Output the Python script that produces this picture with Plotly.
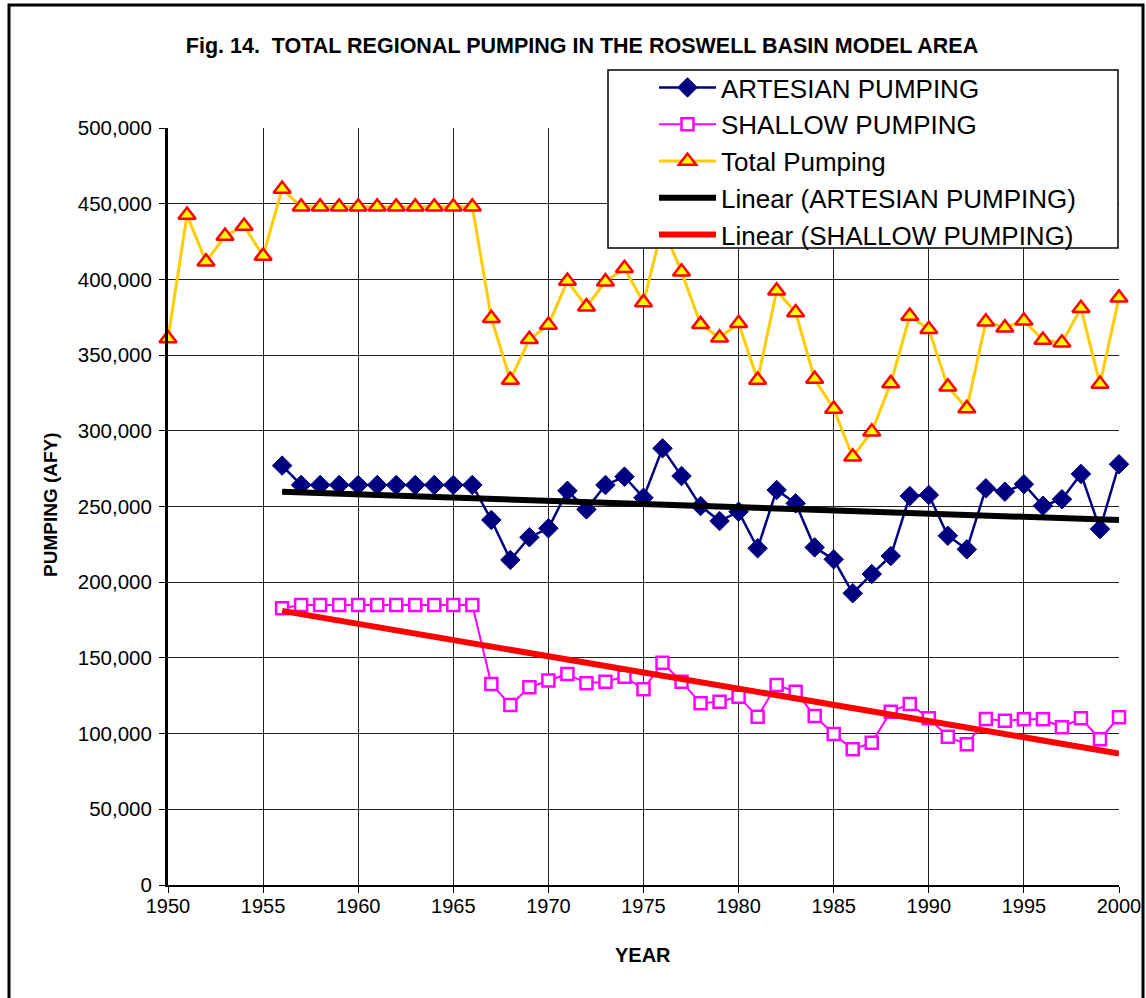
import numpy as np
import plotly.graph_objects as go

# ---- data ----
total_years = list(range(1950, 2001))
total_pumping = [361000, 442500, 411700, 428700, 435300, 415500, 459700,
                 448000, 448000, 448000, 448000, 448000, 448000, 448000, 448000, 448000, 448000,
                 374300, 333600, 360400, 369900, 398900, 382000, 398500, 407300, 384800,
                 435000, 405000, 370300, 361500, 371000, 333600, 392500, 378100,
                 334200, 314400, 282900, 299400, 331300, 375800, 367000, 329100, 314800,
                 372000, 368100, 372700, 360000, 358200, 380900, 330900, 387900]

split_years = list(range(1956, 2001))
artesian = [277000,
            264200, 264200, 264200, 264200, 264200, 264200, 264200, 264200, 264200, 264200,
            241100, 214700, 229700, 235600, 260400, 248100, 264200, 269700, 255800,
            288400, 270100, 250300, 240400, 246600, 222400, 260900, 252100, 223000,
            215100, 192700, 205400, 217300, 256900, 257600, 230700, 221700, 262000,
            259800, 264700, 250500, 254800, 271500, 235100, 277900]
shallow = [182800,
           184900, 184900, 184900, 184900, 184900, 184900, 184900, 184900, 184900, 184900,
           132800, 118900, 130600, 135000, 139400, 133200, 134300, 137600, 129300,
           146800, 134300, 120000, 121100, 124400, 111200, 132100, 127700, 111600,
           99700, 89600, 94000, 114500, 119500, 110100, 98000, 92900, 109600,
           108500, 109400, 109400, 104200, 110100, 96300, 110800]

x_ticks = list(range(1950, 2001, 5))
y_ticks = list(range(0, 500001, 50000))

# linear trendlines (least squares fit of the series, as in the original)
a_fit = np.polyfit(split_years, artesian, 1)
s_fit = np.polyfit(split_years, shallow, 1)
trend_x = [split_years[0], split_years[-1]]
a_trend = list(np.polyval(a_fit, trend_x))
s_trend = list(np.polyval(s_fit, trend_x))

FONT = "Liberation Sans, Arial, sans-serif"

W, H = 1146, 998
L, R, T, B = 168, 27, 128, 113
PW, PH = W - L - R, H - T - B


def px(xp):
    return (xp - L) / PW


def py(yp):
    return (H - B - yp) / PH


fig = go.Figure()

fig.add_trace(go.Scatter(
    x=split_years, y=artesian, name="ARTESIAN PUMPING", mode="lines+markers",
    line=dict(color="#000080", width=2.5),
    marker=dict(symbol="diamond", size=15, color="#000080", line=dict(color="#000080", width=1)),
    cliponaxis=False))

fig.add_trace(go.Scatter(
    x=split_years, y=shallow, name="SHALLOW PUMPING", mode="lines+markers",
    line=dict(color="#FF00FF", width=2),
    marker=dict(symbol="square", size=12, color="white", line=dict(color="#FF00FF", width=2.5)),
    cliponaxis=False))

fig.add_trace(go.Scatter(
    x=total_years, y=total_pumping, name="Total Pumping", mode="lines+markers",
    line=dict(color="#FFCC00", width=3),
    marker=dict(symbol="triangle-up", size=15, color="#FFFF00", line=dict(color="#FF0000", width=2.5)),
    cliponaxis=False))

fig.add_trace(go.Scatter(
    x=trend_x, y=a_trend, name="Linear (ARTESIAN PUMPING)", mode="lines",
    line=dict(color="#000000", width=6)))

fig.add_trace(go.Scatter(
    x=trend_x, y=s_trend, name="Linear (SHALLOW PUMPING)", mode="lines",
    line=dict(color="#FF0000", width=6)))

fig.update_layout(
    width=W, height=H,
    margin=dict(l=L, r=R, t=T, b=B, autoexpand=False),
    paper_bgcolor="white", plot_bgcolor="white",
    font=dict(family=FONT, color="black", size=20),
    title=dict(text="<b>Fig. 14.  TOTAL REGIONAL PUMPING IN THE ROSWELL BASIN MODEL AREA</b>",
               x=582 / W, xanchor="center", xref="container",
               y=1 - 45 / H, yanchor="middle", yref="container",
               font=dict(family=FONT, size=21.5, color="black")),
    showlegend=True,
    legend=dict(x=px(654), y=py(64), xanchor="left", yanchor="top",
                bgcolor="rgba(0,0,0,0)", borderwidth=0,
                font=dict(family=FONT, size=26, color="black"),
                itemwidth=57, traceorder="normal", itemclick=False),
    xaxis=dict(range=[1950, 2000], tickvals=x_ticks, ticktext=[str(v) for v in x_ticks],
               showgrid=True, gridcolor="#222222", gridwidth=1,
               showline=True, linecolor="black", linewidth=2,
               ticks="outside", ticklen=6, tickcolor="black", tickwidth=1,
               ticklabelstandoff=-4,
               tickfont=dict(family=FONT, size=20, color="black"),
               zeroline=False, fixedrange=True),
    yaxis=dict(range=[0, 500000], tickvals=y_ticks, tickformat=",d",
               showgrid=True, gridcolor="#222222", gridwidth=1,
               showline=True, linecolor="black", linewidth=3,
               ticks="outside", ticklen=6, tickcolor="black", tickwidth=1,
               ticklabelstandoff=3,
               tickfont=dict(family=FONT, size=20.5, color="black"),
               zeroline=False, fixedrange=True),
    annotations=[
        dict(text="<b>PUMPING (AFY)</b>", textangle=-90, x=px(50), y=py(505),
             xref="paper", yref="paper", showarrow=False, xanchor="center", yanchor="middle",
             font=dict(family=FONT, size=19, color="black")),
        dict(text="<b>YEAR</b>", x=px(643), y=py(955), xref="paper", yref="paper",
             showarrow=False, xanchor="center", yanchor="middle",
             font=dict(family=FONT, size=20, color="black")),
    ],
    shapes=[
        # legend box
        dict(type="rect", xref="paper", yref="paper", x0=px(608), x1=px(1118), y0=py(248), y1=py(70),
             line=dict(color="black", width=1.5), fillcolor="white", layer="above"),
        # outer frame
        dict(type="rect", xref="paper", yref="paper", x0=px(9), x1=px(1143), y0=py(1010), y1=py(5),
             line=dict(color="black", width=3), fillcolor="rgba(0,0,0,0)", layer="above"),
    ],
)

fig.write_html("out.html",
               config={"displayModeBar": False, "staticPlot": False},
               post_script="document.body.style.margin='0';document.body.style.overflow='hidden';")
